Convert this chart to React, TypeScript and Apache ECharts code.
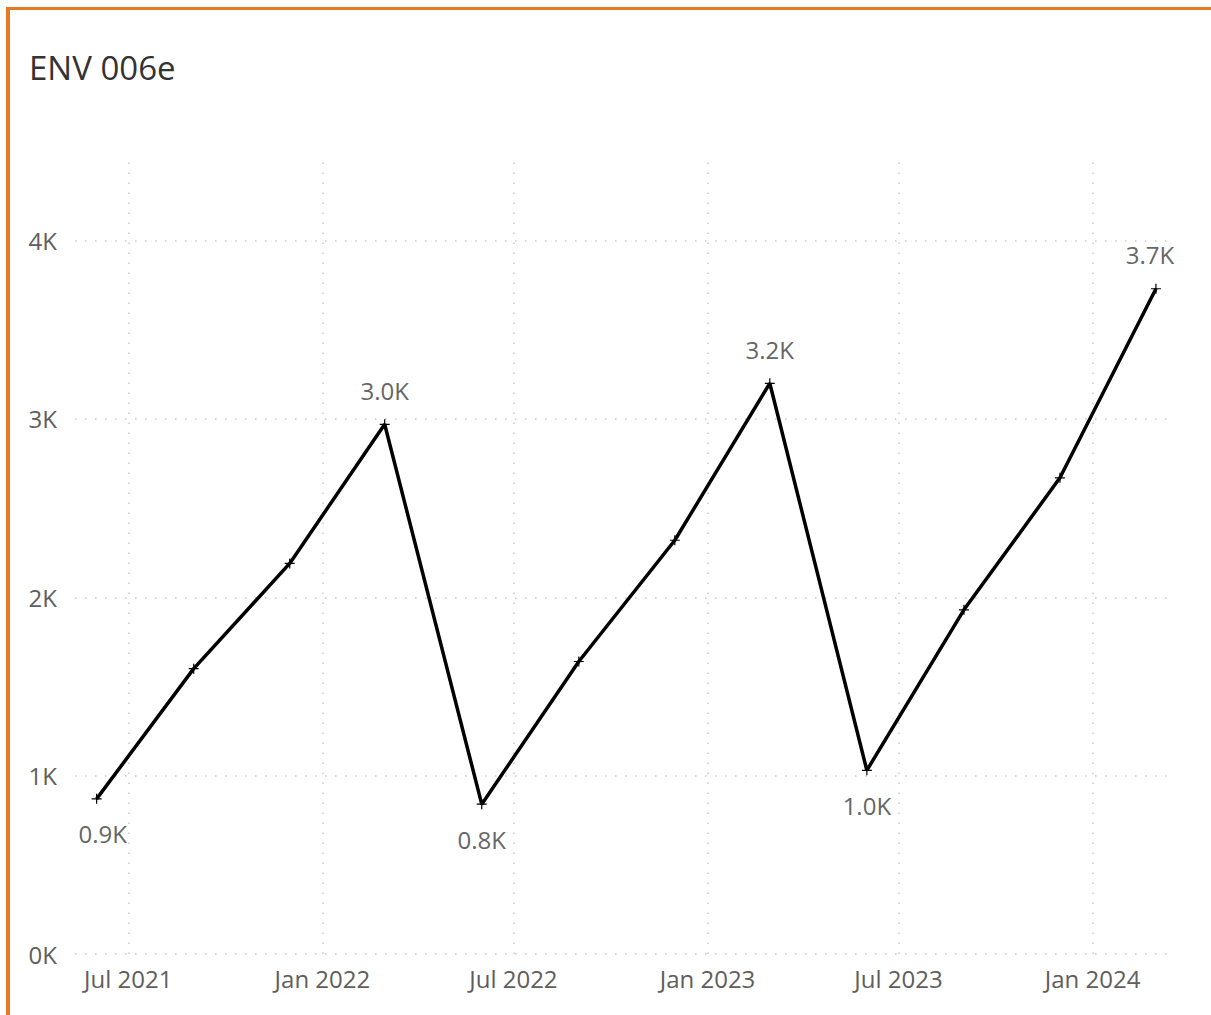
import React, { useEffect, useRef } from "react";
import * as echarts from "echarts";

const TITLE = "ENV 006e";
const dates = [
  "2021-06-01", "2021-09-01", "2021-12-01", "2022-03-01",
  "2022-06-01", "2022-09-01", "2022-12-01", "2023-03-01",
  "2023-06-01", "2023-09-01", "2023-12-01", "2024-03-01",
];
const valuesK = [0.87, 1.6, 2.19, 2.97, 0.84, 1.64, 2.32, 3.2, 1.03, 1.93, 2.67, 3.73];
// label placement for the points that carry a data label
const labelPos: (string | null)[] = [
  "bottom", null, null, "top", "bottom", null, null, "top", "bottom", null, null, "top",
];
const tickDates = ["2021-07-01", "2022-01-01", "2022-07-01", "2023-01-01", "2023-07-01", "2024-01-01"];
const yTicks = [0, 1, 2, 3, 4];
const MONTHS = ["Jan", "Feb", "Mar", "Apr", "May", "Jun", "Jul", "Aug", "Sep", "Oct", "Nov", "Dec"];

const ts = (s: string) => Date.parse(s + "T00:00:00Z");
const FONT = "'Open Sans', 'Noto Sans', sans-serif";

export default function App() {
  const ref = useRef<HTMLDivElement>(null);
  useEffect(() => {
    if (!ref.current) return;
    const chart = echarts.init(ref.current, undefined, { renderer: "svg" });
    const grid = { color: "#c9c9c9", type: [1.5, 8.5] as any, width: 1.5 };
    const seriesData = dates.map((d, i) => {
      const item: any = { value: [ts(d), valuesK[i]] };
      const p = labelPos[i];
      if (p) {
        item.label = {
          show: true,
          position: p,
          distance: p === "top" ? 17 : 18,
          offset: i === 0 ? [6, 0] : i === dates.length - 1 ? [-6, 0] : [0, 0],
        };
      }
      return item;
    });
    chart.setOption({
      animation: false,
      title: {
        text: TITLE,
        left: 24,
        top: 46,
        textStyle: { fontFamily: FONT, fontSize: 33, fontWeight: "normal", color: "#333333" },
      },
      grid: { left: 75, right: 43, top: 155, bottom: 61, containLabel: false },
      xAxis: {
        type: "value",
        min: Date.parse("2021-05-11T12:00:00Z"),
        max: Date.parse("2024-03-12T10:00:00Z"),
        axisLine: { show: false },
        axisTick: { show: false },
        splitLine: { show: false },
        axisLabel: {
          customValues: tickDates.map(ts),
          formatter: (v: number) => {
            const d = new Date(v);
            return MONTHS[d.getUTCMonth()] + " " + d.getUTCFullYear();
          },
          fontFamily: FONT,
          fontSize: 24,
          color: "#605e5c",
          margin: 12,
          hideOverlap: false,
        },
      },
      yAxis: {
        type: "value",
        min: 0,
        max: 4.48,
        interval: 1,
        axisLine: { show: false },
        axisTick: { show: false },
        splitLine: { show: false },
        axisLabel: {
          customValues: yTicks,
          formatter: (v: number) => v + "K",
          fontFamily: FONT,
          fontSize: 24,
          color: "#605e5c",
          margin: 18,
        },
      },
      series: [
        {
          type: "line",
          data: [],
          z: 1,
          silent: true,
          markLine: {
            z: 1,
            silent: true,
            symbol: "none",
            label: { show: false },
            lineStyle: grid,
            emphasis: { disabled: true },
            data: [
              ...tickDates.map((d) => ({ xAxis: ts(d) })),
              ...yTicks.map((v) => ({ yAxis: v })),
            ],
          },
        },
        {
          type: "line",
          z: 3,
          data: seriesData,
          symbol: "path://M0,4.4H10V5.6H0Z M4.4,0H5.6V10H4.4Z",
          symbolSize: 10,
          itemStyle: { color: "#000000" },
          lineStyle: { color: "#000000", width: 3.5 },
          label: {
            show: false,
            fontFamily: FONT,
            fontSize: 24,
            color: "#666666",
            formatter: (p: any) => p.value[1].toFixed(1) + "K",
          },
        },
      ],
    });
    return () => chart.dispose();
  }, []);
  return (
    <div style={{ position: "fixed", left: 0, top: 0, width: 1211, height: 1015, background: "#fff" }}>
      <div
        style={{
          position: "absolute",
          left: 6,
          top: 7,
          right: 0,
          bottom: 0,
          borderLeft: "4px solid #E97A25",
          borderTop: "3px solid #E97A25",
        }}
      />
      <div ref={ref} style={{ position: "absolute", left: 0, top: 0, width: 1211, height: 1015 }} />
    </div>
  );
}
